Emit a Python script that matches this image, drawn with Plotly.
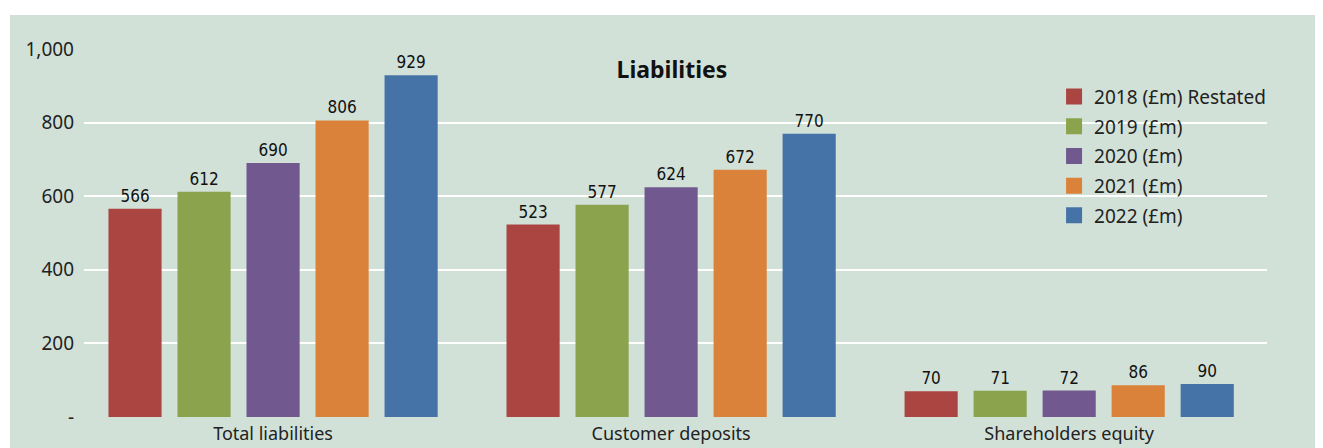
import plotly.graph_objects as go

categories = ["Total liabilities", "Customer deposits", "Shareholders equity"]
series_names = ["2018 (£m) Restated", "2019 (£m)", "2020 (£m)", "2021 (£m)", "2022 (£m)"]
values_2018 = [566, 523, 70]
values_2019 = [612, 577, 71]
values_2020 = [690, 624, 72]
values_2021 = [806, 672, 86]
values_2022 = [929, 770, 90]
y_ticks = [0, 200, 400, 600, 800, 1000]
y_tick_labels = ["-", "200", "400", "600", "800", "1,000"]

colors = ["#ab4542", "#8ba34c", "#71588f", "#db823a", "#4673a7"]
bg = "#d1e1d8"
font_family = "Noto Sans"
narrow_family = "Liberation Sans Narrow, DejaVu Sans Condensed, Roboto"

fig = go.Figure()
all_values = [values_2018, values_2019, values_2020, values_2021, values_2022]
for i, (name, vals, col) in enumerate(zip(series_names, all_values, colors)):
    fig.add_trace(go.Bar(
        name=name,
        x=categories,
        y=vals,
        marker_color=col,
        marker_line_width=0,
        text=[str(v) for v in vals],
        textposition="outside",
        textfont=dict(family=narrow_family, size=17, color="#111111"),
        cliponaxis=False,
        showlegend=False,
        legendgroup=f"g{i}",
    ))
    # legend entry with a larger square swatch
    fig.add_trace(go.Scatter(
        name=name,
        x=[None],
        y=[None],
        mode="markers",
        marker=dict(symbol="square", size=16, color=col),
        showlegend=True,
        legendgroup=f"g{i}",
    ))

fig.update_layout(
    width=1323,
    height=448,
    margin=dict(l=76, r=64, t=41, b=39),
    paper_bgcolor=bg,
    plot_bgcolor=bg,
    barmode="group",
    bargap=0.133,
    bargroupgap=0.23,
    font=dict(family=font_family, size=18, color="#222222"),
    title=dict(
        text="<b>Liabilities</b>",
        x=0.497,
        xref="paper",
        y=1 - 62 / 448,
        yref="container",
        xanchor="center",
        yanchor="middle",
        font=dict(family=font_family, size=23, color="#111111"),
    ),
    legend=dict(
        x=0.820,
        y=0.922,
        xanchor="left",
        yanchor="top",
        bgcolor="rgba(0,0,0,0)",
        font=dict(family=font_family, size=19, color="#222222"),
        itemsizing="trace",
        tracegroupgap=2,
    ),
    xaxis=dict(
        showgrid=False,
        showline=False,
        ticks="",
        tickfont=dict(size=18, color="#222222"),
        range=[-0.475, 2.497],
        ticklabelstandoff=4,
        automargin=False,
    ),
    yaxis=dict(
        range=[0, 1000],
        tickvals=y_ticks,
        ticktext=y_tick_labels,
        showgrid=True,
        gridcolor="#ffffff",
        gridwidth=2,
        zeroline=False,
        showline=False,
        ticks="",
        tickfont=dict(size=19, color="#222222"),
        ticklabelstandoff=9,
        automargin=False,
    ),
    shapes=[
        # white strip along the top and left edge
        dict(type="rect", xref="paper", yref="paper", x0=-0.2, x1=1.2,
             y0=(409 - 7) / 368, y1=1.3, fillcolor="#ffffff", line_width=0,
             layer="below"),
        dict(type="rect", xref="paper", yref="paper", x0=-0.2, x1=-74 / 1183,
             y0=-0.2, y1=1.3, fillcolor="#ffffff", line_width=0,
             layer="below"),
    ],
)

fig.write_html("out.html")
